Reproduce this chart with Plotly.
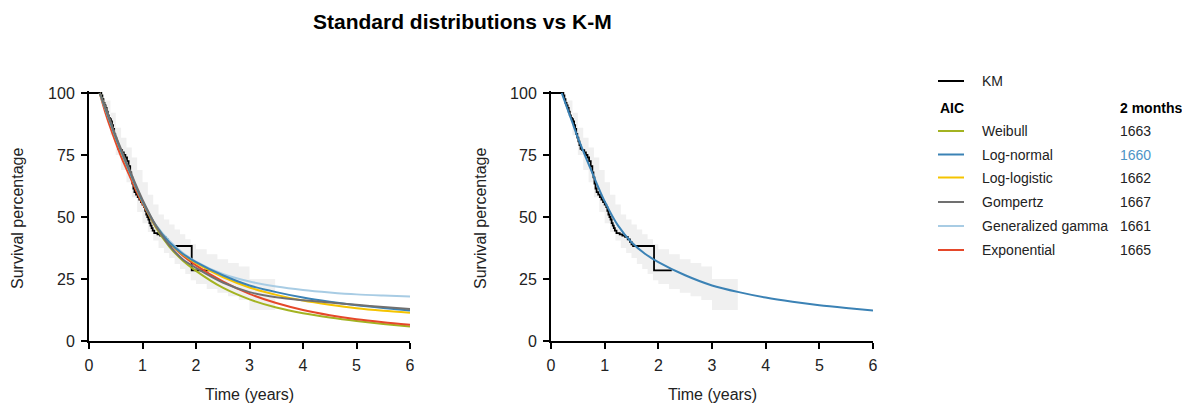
import plotly.graph_objects as go

W, H = 1182, 403

# ---------------- data ----------------
km_t = [0, 0.23, 0.25, 0.27, 0.29, 0.31, 0.33, 0.35, 0.37, 0.39, 0.41, 0.43, 0.45, 0.47, 0.49,
        0.51, 0.53, 0.55, 0.58, 0.62, 0.65, 0.68, 0.71, 0.74, 0.77, 0.79, 0.81, 0.83, 0.85,
        0.88, 0.91, 0.94, 0.97, 1.00, 1.03, 1.05, 1.07, 1.09, 1.11, 1.13, 1.15, 1.17, 1.19,
        1.22, 1.28, 1.33, 1.38, 1.43, 1.47, 1.50, 1.53, 1.92, 2.25]
km_s = [100, 99, 97.5, 96, 95, 94, 92.5, 91, 90, 89.5, 88.5, 87, 85.5, 83.5, 82,
        80.5, 79, 77.5, 77, 76, 75, 74, 72.5, 70.5, 68, 66, 63.5, 61.5, 60,
        59, 58, 57, 56, 55, 54, 52.5, 51, 50, 49, 47.5, 46.5, 45.5, 44.5,
        43.5, 43, 42.5, 42, 41, 40, 39, 38.3, 28.5, 28.5]

ci_t = [0.22, 0.3, 0.4, 0.5, 0.6, 0.7, 0.8, 0.9, 1.0, 1.1, 1.2, 1.3, 1.4, 1.5, 1.6, 1.7,
        1.8, 1.9, 2.0, 2.2, 2.4, 2.6, 2.8, 3.0, 3.48]
ci_upper = [100, 97, 92, 86, 82, 78, 74, 69, 64, 59, 55, 51, 49, 47, 45, 43,
            41, 39, 37, 35, 33, 31.5, 30, 25, 25]
ci_lower = [100, 92, 83, 75, 69, 64, 58, 52, 47.5, 44, 40.5, 37.5, 35.5, 33.5, 31, 29,
            27, 24.5, 23, 21, 19.5, 18, 16.5, 12.5, 12.5]

fit_t = [0.2, 0.3, 0.4, 0.5, 0.625, 0.75, 0.875, 1.0, 1.25, 1.5, 1.75, 2.0, 2.5, 3.0,
         3.5, 4.0, 4.5, 5.0, 5.5, 6.0]
weibull = [100, 94, 88, 81.8, 75, 68.5, 62, 56, 45.8, 38.1, 32.5, 28.3, 21.5, 16.8,
           13.5, 11.2, 9.5, 8.1, 6.9, 5.8]
lognormal = [100, 94, 88, 82, 75.3, 68.8, 62.3, 56.3, 46.5, 39.8, 35.2, 31.8, 26.5, 22.4,
             19.7, 17.5, 15.8, 14.4, 13.3, 12.3]
loglogistic = [100, 94, 88, 82, 75.3, 68.8, 62.3, 56.2, 46.4, 39.6, 35, 31.4, 25.8, 21.6,
               18.6, 16.3, 14.6, 13.2, 12.2, 11.4]
gompertz = [100, 94.5, 88.7, 82.7, 76, 69.5, 63, 57, 46.5, 38.6, 33, 29.5, 23.6, 19.7,
            17.6, 16.4, 15.5, 14.6, 13.7, 12.9]
gengamma = [100, 94, 88, 82, 75.3, 68.8, 62.3, 56.4, 46.8, 40.4, 35.6, 32, 27, 24,
            22, 20.6, 19.6, 18.8, 18.3, 17.9]
exponential = [100, 92.5, 86, 80, 73, 67, 61, 55.5, 46.3, 39.6, 34.5, 30.5, 24, 19,
               15.3, 12.5, 10.4, 8.8, 7.6, 6.6]

model_names = ["Weibull", "Log-normal", "Log-logistic", "Gompertz", "Generalized gamma", "Exponential"]
model_aic = ["1663", "1660", "1662", "1667", "1661", "1665"]
model_colors = ["#a3b321", "#3b82b5", "#f5c400", "#707070", "#a8cce4", "#e5482a"]
model_values = [weibull, lognormal, loglogistic, gompertz, gengamma, exponential]

x_ticks = [0, 1, 2, 3, 4, 5, 6]
y_ticks = [0, 25, 50, 75, 100]

FONT = "Arial, Liberation Sans, sans-serif"
BAND = "rgb(240,240,240)"

fig = go.Figure()


def add_band_and_km(xa, ya):
    fig.add_trace(go.Scatter(x=ci_t, y=ci_lower, mode="lines", line=dict(width=0, shape="hv"),
                             xaxis=xa, yaxis=ya, showlegend=False, hoverinfo="skip"))
    fig.add_trace(go.Scatter(x=ci_t, y=ci_upper, mode="lines", line=dict(width=0, shape="hv"),
                             fill="tonexty", fillcolor=BAND,
                             xaxis=xa, yaxis=ya, showlegend=False, hoverinfo="skip"))
    fig.add_trace(go.Scatter(x=km_t, y=km_s, mode="lines",
                             line=dict(color="black", width=1.8, shape="hv"),
                             xaxis=xa, yaxis=ya, showlegend=False, name="KM"))


# Left panel
add_band_and_km("x", "y")
draw_order = [0, 5, 4, 2, 1, 3]
for i in draw_order:
    fig.add_trace(go.Scatter(x=fit_t, y=model_values[i], mode="lines",
                             line=dict(color=model_colors[i], width=2, shape="spline", smoothing=0.8),
                             xaxis="x", yaxis="y", showlegend=False, name=model_names[i]))

# Right panel (best model: Log-normal)
add_band_and_km("x2", "y2")
fig.add_trace(go.Scatter(x=fit_t, y=lognormal, mode="lines",
                         line=dict(color=model_colors[1], width=2, shape="spline", smoothing=0.8),
                         xaxis="x2", yaxis="y2", showlegend=False, name="Log-normal"))

def px_x(p):
    return p / W

def px_y(p):
    return 1 - p / H

y_dom = [px_y(341), px_y(341 - 2.48 * 100.8)]

axis_common = dict(showgrid=False, zeroline=False, showline=True, linecolor="black", linewidth=2,
                   ticks="outside", ticklen=6, tickwidth=2, tickcolor="black", automargin=False,
                   tickfont=dict(family=FONT, size=16, color="#222"))

fig.update_layout(
    template="none",
    width=W, height=H, autosize=False,
    margin=dict(l=0, r=0, t=0, b=0, pad=0, autoexpand=False),
    paper_bgcolor="white", plot_bgcolor="white",
    font=dict(family=FONT, color="#222"),
    xaxis=dict(domain=[px_x(89), px_x(410)], range=[0, 6], tickvals=x_ticks, anchor="y",
               ticklabelstandoff=3, **axis_common),
    yaxis=dict(domain=y_dom, range=[0, 100.8], tickvals=y_ticks, anchor="x",
               ticklabelstandoff=3, **axis_common),
    xaxis2=dict(domain=[px_x(551), px_x(873)], range=[0, 6], tickvals=x_ticks, anchor="y2",
                ticklabelstandoff=3, **axis_common),
    yaxis2=dict(domain=y_dom, range=[0, 100.8], tickvals=y_ticks, anchor="x2",
                ticklabelstandoff=3, **axis_common),
    showlegend=False,
)

ann = []
ann.append(dict(text="<b>Standard distributions vs K-M</b>", x=px_x(462), y=px_y(22),
                xref="paper", yref="paper", showarrow=False, xanchor="center", yanchor="middle",
                font=dict(family=FONT, size=21, color="black")))
for cx in (17, 480):
    ann.append(dict(text="Survival percentage", x=px_x(cx), y=px_y(218), textangle=-90,
                    xref="paper", yref="paper", showarrow=False, xanchor="center", yanchor="middle",
                    font=dict(family=FONT, size=16, color="#222")))
for cx in (249, 712):
    ann.append(dict(text="Time (years)", x=px_x(cx), y=px_y(394),
                    xref="paper", yref="paper", showarrow=False, xanchor="center", yanchor="middle",
                    font=dict(family=FONT, size=16, color="#222")))

shapes = []
# legend
leg_x0, leg_x1, leg_text, leg_val = 938, 964, 980, 1118
shapes.append(dict(type="line", xref="paper", yref="paper", x0=px_x(leg_x0), x1=px_x(leg_x1),
                   y0=px_y(81), y1=px_y(81), line=dict(color="black", width=2)))
ann.append(dict(text="KM", x=px_x(leg_text), y=px_y(81), xref="paper", yref="paper", showarrow=False,
                xanchor="left", yanchor="middle", font=dict(family=FONT, size=14, color="#222")))
ann.append(dict(text="<b>AIC</b>", x=px_x(leg_x0), y=px_y(108), xref="paper", yref="paper", showarrow=False,
                xanchor="left", yanchor="middle", font=dict(family=FONT, size=14, color="black")))
ann.append(dict(text="<b>2 months</b>", x=px_x(leg_val), y=px_y(108), xref="paper", yref="paper",
                showarrow=False, xanchor="left", yanchor="middle",
                font=dict(family=FONT, size=14, color="black")))
row_y = [131, 154.5, 177.5, 202, 226, 250]
for i, name in enumerate(model_names):
    yy = row_y[i]
    shapes.append(dict(type="line", xref="paper", yref="paper", x0=px_x(leg_x0), x1=px_x(leg_x1),
                       y0=px_y(yy), y1=px_y(yy), line=dict(color=model_colors[i], width=2)))
    ann.append(dict(text=name, x=px_x(leg_text), y=px_y(yy), xref="paper", yref="paper", showarrow=False,
                    xanchor="left", yanchor="middle", font=dict(family=FONT, size=14, color="#222")))
    col = "#4d94c6" if name == "Log-normal" else "#222"
    ann.append(dict(text=model_aic[i], x=px_x(leg_val), y=px_y(yy), xref="paper", yref="paper",
                    showarrow=False, xanchor="left", yanchor="middle",
                    font=dict(family=FONT, size=14, color=col)))

fig.update_layout(annotations=ann, shapes=shapes)
fig.write_html("out.html", config={"displayModeBar": False},
               post_script="document.body.style.margin='0px';document.body.style.overflow='hidden';")
